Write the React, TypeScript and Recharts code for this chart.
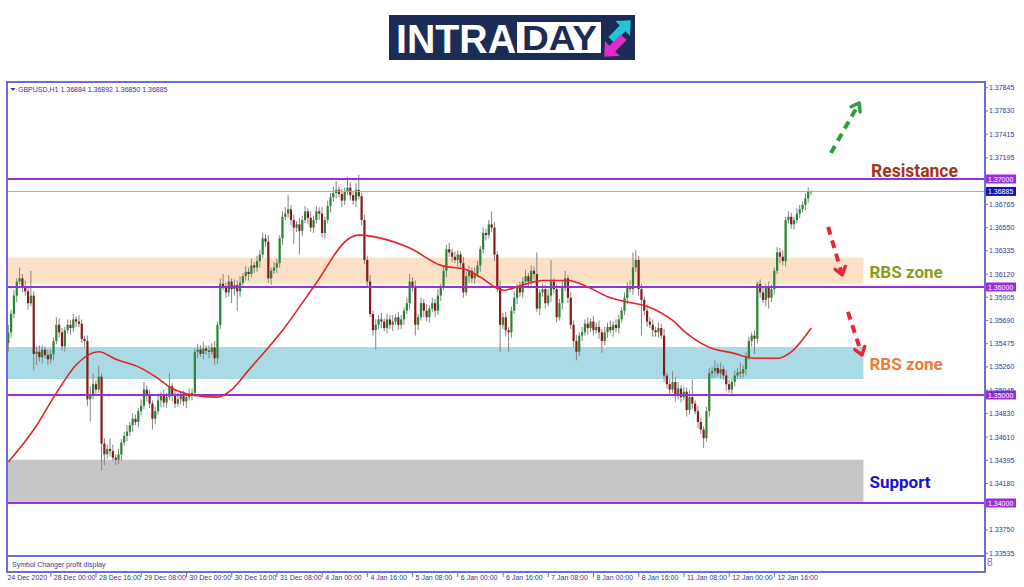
import React from "react";
import {
  ComposedChart,
  Bar,
  Line,
  XAxis,
  YAxis,
  ReferenceArea,
  ReferenceLine,
} from "recharts";

const FONT = "'Liberation Sans', Arial, sans-serif";
const BOLD = "Roboto, 'Liberation Sans', sans-serif";
const NAVY = "#35359a";
const FRAME = "#6c6cdc";
const PURPLE = "#9a2fd6";
const GREEN = "#2a8436";
const RED = "#861b1b";
const WICK = "#858585";

// GBPUSD H1, 24 Dec 2020 .. 13 Jan 2021. open of a bar = close of the bar before it
const FIRST_OPEN = 1.3548;
const closes = [
  1.3558, 1.3575, 1.3592, 1.3605, 1.3608, 1.36, 1.3596, 1.3585, 1.3592, 1.3538,
  1.354, 1.3535, 1.3542, 1.3537, 1.3533, 1.3538, 1.355, 1.3565, 1.3558, 1.3545,
  1.356, 1.3565, 1.3562, 1.357, 1.3568, 1.3566, 1.3552, 1.355, 1.3496, 1.35,
  1.351, 1.3505, 1.3517, 1.3455, 1.3445, 1.345, 1.3448, 1.3442, 1.344, 1.3445,
  1.3456, 1.3462, 1.3466, 1.3472, 1.3478, 1.3475, 1.3485, 1.349, 1.3505, 1.35,
  1.3492, 1.3478, 1.3485, 1.3495, 1.35, 1.3493, 1.3498, 1.3508, 1.35, 1.3492,
  1.3496, 1.3499, 1.3494, 1.3498, 1.35, 1.3502, 1.354, 1.3542, 1.3538, 1.3543,
  1.3541, 1.354, 1.3544, 1.3534, 1.3565, 1.3603, 1.36, 1.3595, 1.3605, 1.3598,
  1.3602, 1.3596, 1.3604, 1.361, 1.3614, 1.3612, 1.362, 1.3618, 1.3624, 1.363,
  1.3645, 1.3642, 1.3608, 1.3615, 1.3618, 1.3622, 1.3645, 1.3665, 1.3668, 1.3672,
  1.3662, 1.3655, 1.3658, 1.3652, 1.3662, 1.367, 1.3664, 1.3655, 1.3662, 1.367,
  1.3668, 1.365, 1.3662, 1.3675, 1.3683, 1.3687, 1.369, 1.3686, 1.368, 1.3688,
  1.3692, 1.3685, 1.368, 1.369, 1.3684, 1.3662, 1.3625, 1.3605, 1.3575, 1.356,
  1.3565, 1.357, 1.3568, 1.3562, 1.357, 1.3565, 1.3568, 1.3572, 1.3565, 1.357,
  1.3578, 1.3585, 1.3605, 1.36, 1.3565, 1.3572, 1.3585, 1.3578, 1.3572, 1.358,
  1.3585, 1.3578, 1.3592, 1.36, 1.3615, 1.3635, 1.3632, 1.3628, 1.3625, 1.363,
  1.3622, 1.3595, 1.361, 1.3615, 1.3608, 1.3612, 1.362, 1.3635, 1.365, 1.3648,
  1.3658, 1.3655, 1.363, 1.36, 1.3565, 1.3572, 1.356, 1.3558, 1.3578, 1.359,
  1.36, 1.3595, 1.3605, 1.361, 1.3605, 1.3615, 1.3612, 1.358, 1.3595, 1.3598,
  1.3585, 1.3592, 1.3605, 1.3598, 1.3572, 1.3585, 1.36, 1.3608, 1.359, 1.3565,
  1.355, 1.354, 1.3555, 1.3558, 1.3566, 1.3562, 1.3568, 1.356, 1.3563, 1.3558,
  1.355, 1.3558, 1.3563, 1.356, 1.3565, 1.3562, 1.357, 1.3578, 1.359, 1.36,
  1.3598, 1.3618, 1.3625, 1.3598, 1.3588, 1.3578, 1.3568, 1.3565, 1.356, 1.3558,
  1.3562, 1.3555, 1.3518, 1.351, 1.3505, 1.3512, 1.35, 1.3506, 1.3498, 1.3503,
  1.3486, 1.3498, 1.3492, 1.3485, 1.3475, 1.3468, 1.346, 1.3485, 1.352, 1.3522,
  1.3525, 1.352, 1.3524, 1.3518, 1.351, 1.3505, 1.3512, 1.3518, 1.3521, 1.352,
  1.3524, 1.3535, 1.355, 1.3555, 1.3552, 1.3603, 1.3595, 1.3588, 1.36, 1.359,
  1.3598, 1.3615, 1.3632, 1.3628, 1.3624, 1.3662, 1.3665, 1.3658, 1.3662, 1.3668,
  1.3672, 1.3676, 1.3682, 1.36884, 1.36885,
];
// wick lengths in pips above / below the body
const upperWick = [
  7, 4, 5, 3, 10, 4, 6, 5, 23, 4,
  5, 6, 4, 3, 5, 4, 3, 7, 6, 4,
  3, 5, 4, 5, 3, 6, 4, 3, 5, 8,
  10, 4, 10, 3, 5, 4, 10, 6, 3, 5,
  3, 4, 6, 3, 5, 4, 3, 6, 7, 4,
  5, 3, 4, 6, 3, 5, 4, 12, 3, 5,
  6, 4, 5, 3, 6, 4, 3, 5, 4, 6,
  3, 5, 4, 6, 3, 5, 9, 4, 6, 3,
  5, 4, 6, 3, 5, 4, 6, 3, 5, 4,
  5, 4, 6, 3, 5, 4, 3, 5, 6, 13,
  4, 5, 3, 6, 4, 5, 3, 6, 4, 5,
  4, 6, 3, 5, 4, 6, 8, 3, 5, 4,
  10, 5, 4, 6, 14, 3, 5, 4, 6, 3,
  5, 4, 6, 3, 5, 4, 6, 3, 5, 4,
  3, 5, 7, 4, 6, 3, 5, 4, 6, 3,
  5, 4, 6, 3, 5, 4, 6, 3, 5, 4,
  3, 6, 4, 5, 3, 6, 4, 3, 5, 4,
  4, 12, 5, 3, 6, 4, 5, 3, 4, 6,
  3, 5, 4, 6, 3, 5, 4, 20, 3, 5,
  4, 6, 20, 3, 5, 4, 6, 7, 3, 5,
  4, 6, 3, 5, 4, 6, 3, 5, 4, 6,
  3, 5, 4, 6, 3, 5, 4, 3, 5, 4,
  6, 14, 9, 4, 5, 3, 6, 4, 5, 3,
  5, 4, 6, 3, 5, 10, 4, 6, 3, 5,
  4, 6, 16, 3, 5, 4, 3, 4, 5, 4,
  7, 4, 6, 3, 5, 4, 3, 5, 4, 9,
  4, 5, 4, 3, 5, 2, 4, 6, 3, 5,
  4, 3, 5, 4, 6, 3, 5, 4, 3, 5,
  4, 3, 5, 4, 0.7,
];
const lowerWick = [
  8, 5, 4, 6, 3, 5, 4, 6, 3, 15,
  10, 4, 6, 3, 5, 4, 6, 3, 5, 4,
  5, 3, 6, 4, 5, 3, 4, 6, 6, 21,
  4, 5, 3, 25, 10, 4, 5, 3, 5, 4,
  6, 3, 5, 4, 6, 3, 5, 4, 3, 6,
  4, 10, 5, 3, 6, 4, 5, 3, 6, 4,
  3, 5, 4, 6, 3, 5, 4, 6, 3, 5,
  4, 6, 3, 6, 5, 4, 3, 5, 4, 13,
  6, 18, 5, 3, 4, 6, 3, 5, 4, 6,
  3, 5, 4, 6, 3, 5, 4, 6, 3, 4,
  5, 15, 4, 22, 5, 3, 6, 4, 5, 3,
  6, 4, 5, 3, 6, 4, 5, 3, 6, 4,
  3, 5, 4, 6, 3, 5, 4, 6, 3, 5,
  18, 4, 6, 3, 5, 4, 6, 3, 5, 4,
  5, 3, 6, 4, 10, 5, 3, 6, 4, 5,
  3, 6, 4, 5, 3, 6, 4, 5, 3, 6,
  4, 5, 3, 6, 4, 5, 3, 6, 4, 5,
  3, 4, 6, 5, 25, 4, 6, 18, 5, 3,
  6, 4, 5, 3, 6, 4, 5, 3, 6, 4,
  5, 3, 6, 4, 5, 3, 6, 4, 5, 4,
  6, 8, 4, 5, 3, 6, 4, 5, 3, 6,
  11, 4, 5, 3, 6, 4, 5, 3, 4, 6,
  3, 5, 4, 6, 33, 4, 5, 3, 6, 4,
  5, 3, 6, 4, 5, 3, 6, 4, 5, 3,
  6, 4, 5, 3, 6, 4, 9, 3, 5, 4,
  6, 3, 5, 4, 6, 3, 5, 4, 3, 5,
  4, 6, 3, 5, 14, 4, 5, 3, 6, 10,
  4, 5, 3, 6, 4, 5, 3, 4, 5, 3,
  4, 3, 5, 4, 3.5,
];

// moving average read at these bars
const maBars = [0, 9, 17, 24, 32, 38, 46, 52, 58, 65, 74, 79, 85, 97, 109, 120, 124, 132, 142, 153, 162, 167, 175, 182, 189, 198, 205, 212, 219, 226, 235, 240, 248, 256, 264, 272, 277, 284];
const maValues = [1.3438, 1.3468, 1.3502, 1.3528, 1.354, 1.3533, 1.3526, 1.3517, 1.3506, 1.35, 1.3498, 1.3505, 1.3523, 1.356, 1.3604, 1.3644, 1.3648, 1.3645, 1.3636, 1.362, 1.3616, 1.3609, 1.3597, 1.3602, 1.3606, 1.3606, 1.36, 1.3591, 1.3586, 1.3582, 1.3569, 1.3557, 1.3544, 1.3539, 1.3534, 1.3534, 1.354, 1.3562];

const timeTicks = [0, 15, 31, 47, 63, 79, 95, 111, 127, 143, 159, 175, 191, 207, 223, 239, 255, 271];
const timeLabels = ["24 Dec 2020", "28 Dec 00:00", "28 Dec 16:00", "29 Dec 08:00", "30 Dec 00:00", "30 Dec 16:00", "31 Dec 08:00", "4 Jan 00:00", "4 Jan 16:00", "5 Jan 08:00", "6 Jan 00:00", "6 Jan 16:00", "7 Jan 08:00", "8 Jan 00:00", "8 Jan 16:00", "11 Jan 08:00", "12 Jan 00:00", "12 Jan 16:00"];

const priceTicks = [1.37845, 1.3763, 1.37415, 1.37195, 1.36765, 1.3655, 1.36335, 1.3612, 1.35905, 1.3569, 1.35475, 1.3526, 1.35045, 1.3483, 1.3461, 1.34395, 1.3418, 1.3375, 1.33535];
const levels = [1.37, 1.36, 1.35, 1.34];
const lastPrice = 1.36885;
const zoneLow = [1.3603, 1.35148, 1.34];
const zoneHigh = [1.3627, 1.35444, 1.344];
const zoneNames = ["RBS zone", "RBS zone", "Support"];
const zoneEndBar = 302;
// arrows: [bar, price] -> [bar, price]
const arrowFrom = [[291, 1.37241], [290, 1.36556], [297, 1.35769]];
const arrowTo = [[301, 1.37704], [295, 1.36111], [302, 1.3537]];

const SLOTS = 346;

const rows = Array.from({ length: SLOTS }, (_, i) => {
  const k = maBars.indexOf(i);
  const ma = k >= 0 ? maValues[k] : null;
  if (i >= closes.length) return { i, ma };
  const open = i === 0 ? FIRST_OPEN : closes[i - 1];
  const close = closes[i];
  const high = Math.max(open, close) + upperWick[i] / 10000;
  const low = Math.min(open, close) - lowerWick[i] / 10000;
  return { i, open, close, high, low, range: [low, high], ma };
});

function Candle(props: any) {
  const { x, y, width, height, payload } = props;
  if (!payload || payload.high == null || !isFinite(y)) return null;
  const { open, close, high, low } = payload;
  const top = Math.min(y, y + height);
  const h = Math.abs(height);
  const k = h / (high - low || 1e-9);
  const cx = x + width / 2;
  const py = (v: number) => top + (high - v) * k;
  const bt = py(Math.max(open, close));
  const bb = py(Math.min(open, close));
  return (
    <g>
      <line x1={cx} x2={cx} y1={top} y2={top + h} stroke={WICK} strokeWidth={1} />
      <rect x={cx - 1.1} y={bt} width={2.2} height={Math.max(1, bb - bt)} fill={close >= open ? GREEN : RED} />
    </g>
  );
}

function TimeTick(props: any) {
  const { x, y, payload } = props;
  const label = timeLabels[timeTicks.indexOf(payload.value)];
  const first = payload.value === 0;
  return (
    <g>
      {!first && <line x1={x} x2={x} y1={y + 16} y2={y + 21} stroke={FRAME} strokeWidth={1} />}
      <text x={first ? x - 1 : x + 3} y={y + 24} fontSize={7} fill={NAVY} fontFamily={FONT}>
        {label}
      </text>
    </g>
  );
}

function PriceTag(props: any) {
  const { viewBox, text, bg } = props;
  if (!viewBox) return null;
  const left = viewBox.x + viewBox.width + 1;
  return (
    <g>
      <rect x={left} y={viewBox.y - 4.5} width={30} height={9} fill={bg} />
      <text x={left + 2} y={viewBox.y + 2.6} fontSize={7} fill="#fff" fontFamily={FONT}>
        {text}
      </text>
    </g>
  );
}

function ZoneLabel(props: any) {
  const { viewBox, text, color } = props;
  if (!viewBox) return null;
  return (
    <text
      x={viewBox.x + viewBox.width + 6}
      y={viewBox.y + viewBox.height / 2 + 7}
      fontSize={17}
      fontWeight={700}
      fill={color}
      fontFamily={BOLD}
    >
      {text}
    </text>
  );
}

const arrowShape = (color: string) => (p: any) => {
  const { x1, y1, x2, y2 } = p;
  const ang = Math.atan2(y2 - y1, x2 - x1);
  const head = 9;
  const a1 = ang + Math.PI - 0.62;
  const a2 = ang + Math.PI + 0.62;
  return (
    <g>
      <line
        x1={x1}
        y1={y1}
        x2={x2 - Math.cos(ang) * 3}
        y2={y2 - Math.sin(ang) * 3}
        stroke={color}
        strokeWidth={4}
        strokeDasharray="8 6"
      />
      <polyline
        points={`${x2 + head * Math.cos(a1)},${y2 + head * Math.sin(a1)} ${x2},${y2} ${x2 + head * Math.cos(a2)},${y2 + head * Math.sin(a2)}`}
        fill="none"
        stroke={color}
        strokeWidth={3.5}
        strokeLinecap="round"
        strokeLinejoin="round"
      />
    </g>
  );
};

const ARROW_COLORS = ["#2e9e3c", "#e8283a", "#e8283a"];
const ZONE_FILLS = ["#fde1c6", "#aadbe4", "#c6c6c6"];
const ZONE_TEXT = ["#8c9a1e", "#f07a3c", "#1515cf"];

function Overlay() {
  const arrowPath = "M-12,-3.5 L2,-3.5 L2,-9 L12,0 L2,9 L2,3.5 L-12,3.5 Z";
  return (
    <svg
      width={1024}
      height={587}
      style={{ position: "absolute", left: 0, top: 0, pointerEvents: "none" }}
    >
      {/* logo */}
      <g transform="translate(389,15)">
        <rect width={246} height={45} fill="#1b2c57" />
        <text x={7} y={37.5} fontSize={41} fontWeight={700} fill="#fff" fontFamily={FONT} textLength={120} lengthAdjust="spacingAndGlyphs">
          INTRA
        </text>
        <rect x={128} y={7} width={84} height={31} fill="#fff" />
        <text x={133} y={35} fontSize={35} fontWeight={700} fill="#1b2c57" fontFamily={FONT} textLength={75} lengthAdjust="spacingAndGlyphs">
          DAY
        </text>
        <path d={arrowPath} fill="#27c3d3" transform="translate(232,15) rotate(-45) scale(1.15)" />
        <path d={arrowPath} fill="#e22bc9" transform="translate(225,32) rotate(135) scale(1.15)" />
      </g>

      {/* frame */}
      <line x1={7} y1={82} x2={986} y2={82} stroke={FRAME} strokeWidth={2} />
      <line x1={7} y1={81} x2={7} y2={573} stroke={FRAME} strokeWidth={2} />
      <line x1={985} y1={556} x2={985} y2={573} stroke={FRAME} strokeWidth={2} />
      <line x1={7} y1={572} x2={986} y2={572} stroke={FRAME} strokeWidth={2} />

      <path d="M10.5,88 L15.5,88 L13,91 Z" fill={NAVY} />
      <text x={18} y={92} fontSize={7} fill={NAVY} fontFamily={FONT}>
        GBPUSD,H1  1.36884 1.36892 1.36850 1.36885
      </text>
      <text x={12} y={567} fontSize={7} fill={NAVY} fontFamily={FONT}>
        Symbol Changer profit display
      </text>
      <text x={987} y={566} fontSize={10} fill={FRAME} fontFamily={FONT}>
        8
      </text>
      <text x={871} y={177} fontSize={17.5} fontWeight={700} fill="#a2341c" fontFamily={BOLD}>
        Resistance
      </text>
    </svg>
  );
}

export default function App() {
  return (
    <div
      style={{
        position: "absolute",
        left: 0,
        top: 0,
        width: 1024,
        height: 587,
        background: "#fff",
        overflow: "hidden",
      }}
    >
      <ComposedChart width={1024} height={587} data={rows} margin={{ top: 82, right: 0, bottom: 0, left: 7 }}>
        <XAxis
          dataKey="i"
          type="category"
          ticks={timeTicks}
          interval={0}
          height={31}
          tickSize={0}
          tickMargin={0}
          tickLine={false}
          axisLine={{ stroke: FRAME, strokeWidth: 2 }}
          tick={<TimeTick />}
        />
        <YAxis
          orientation="right"
          width={39}
          type="number"
          domain={[1.33509, 1.37898]}
          allowDataOverflow
          ticks={priceTicks}
          interval={0}
          tickSize={3}
          tickMargin={1}
          tickFormatter={(v: number) => v.toFixed(5)}
          tick={{ fontSize: 7, fill: NAVY, fontFamily: FONT }}
          tickLine={{ stroke: FRAME }}
          axisLine={{ stroke: FRAME, strokeWidth: 2 }}
        />

        {zoneLow.map((lo, k) => (
          <ReferenceArea
            key={"z" + k}
            x1={0}
            x2={zoneEndBar}
            y1={lo}
            y2={zoneHigh[k]}
            ifOverflow="visible"
            fill={ZONE_FILLS[k]}
            fillOpacity={1}
            stroke="none"
            label={<ZoneLabel text={zoneNames[k]} color={ZONE_TEXT[k]} />}
          />
        ))}

        <ReferenceLine
          y={lastPrice}
          stroke="#a9a9a9"
          strokeWidth={1}
          label={<PriceTag text={lastPrice.toFixed(5)} bg="#1414a8" />}
        />
        {levels.map((lv) => (
          <ReferenceLine
            key={"l" + lv}
            y={lv}
            stroke={PURPLE}
            strokeWidth={2}
            label={<PriceTag text={lv.toFixed(5)} bg={PURPLE} />}
          />
        ))}

        <Bar dataKey="range" shape={<Candle />} isAnimationActive={false} />
        <Line
          dataKey="ma"
          type="monotone"
          stroke="#e0262b"
          strokeWidth={1.6}
          dot={false}
          connectNulls
          isAnimationActive={false}
        />

        {arrowFrom.map((a, k) => (
          <ReferenceLine
            key={"a" + k}
            segment={[
              { x: a[0], y: a[1] },
              { x: arrowTo[k][0], y: arrowTo[k][1] },
            ]}
            shape={arrowShape(ARROW_COLORS[k])}
          />
        ))}
      </ComposedChart>
      <Overlay />
    </div>
  );
}
